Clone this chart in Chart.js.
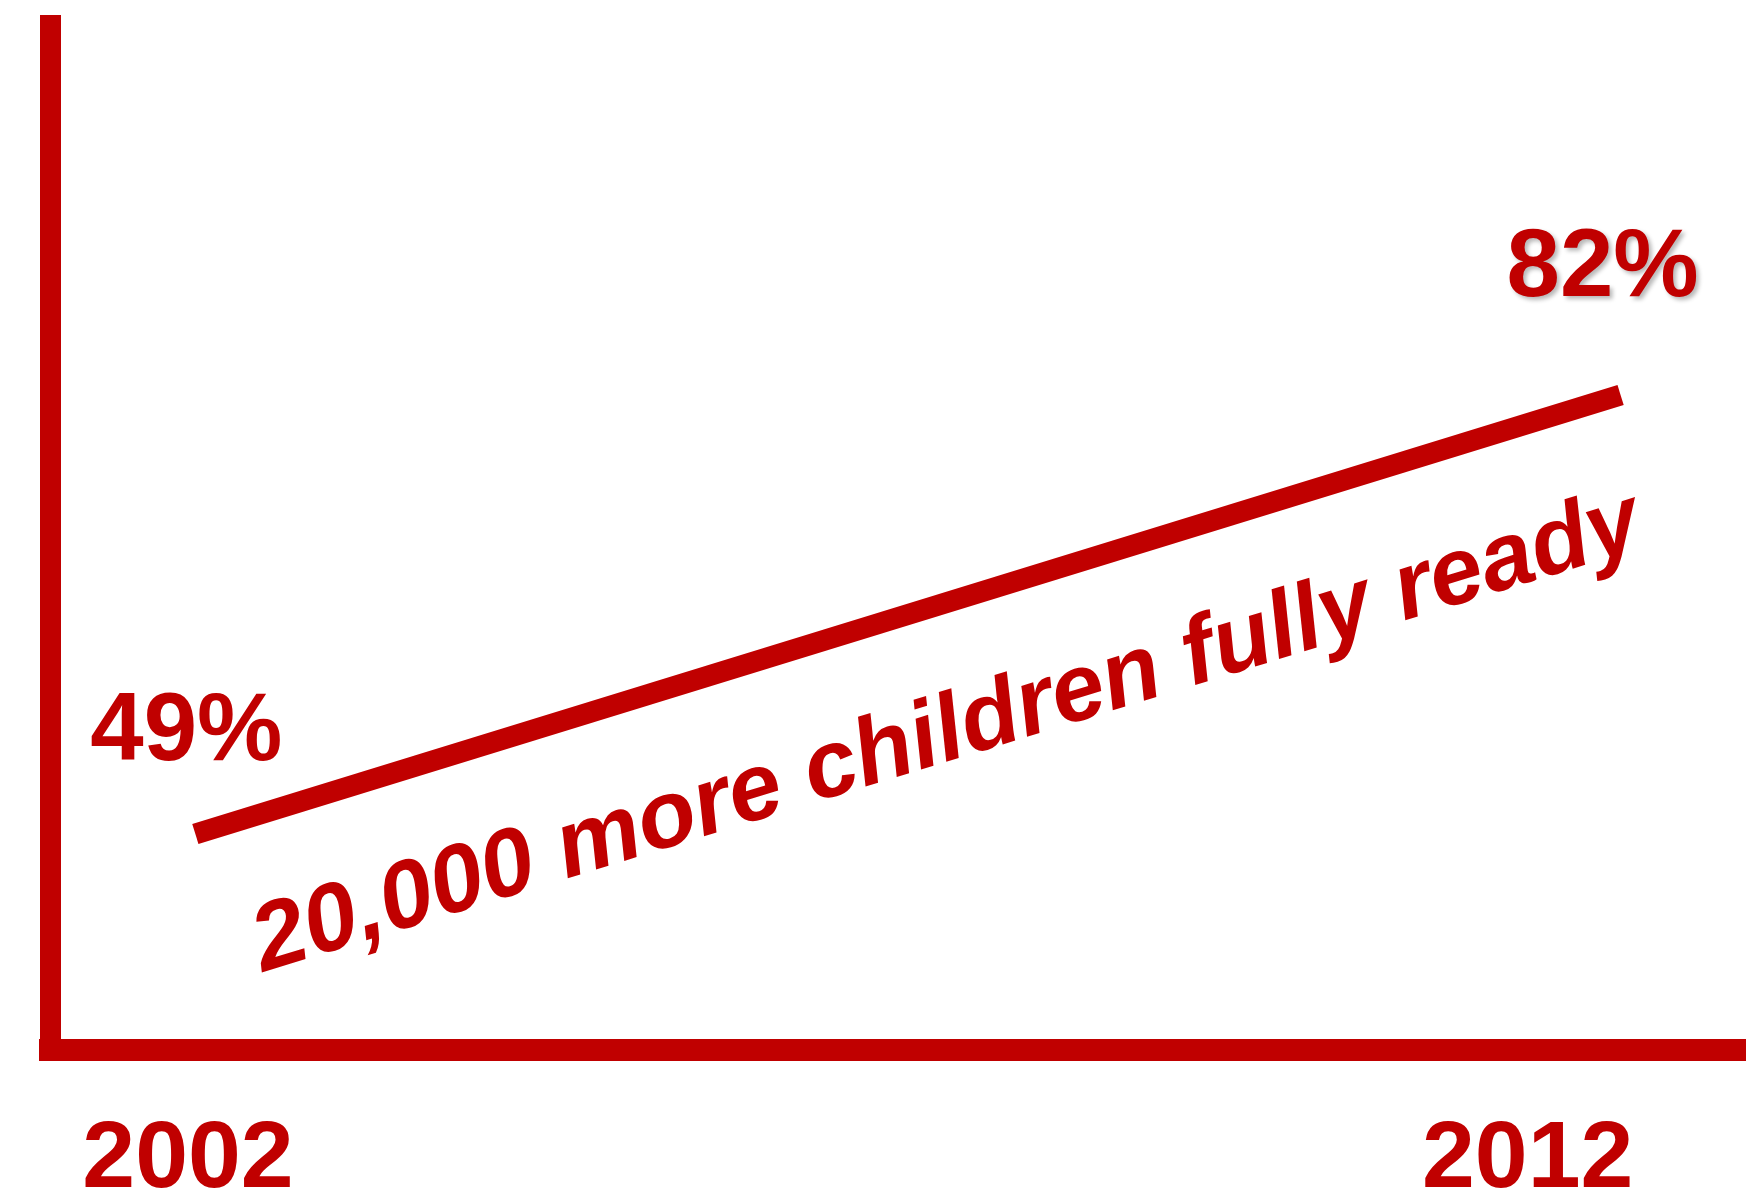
<!DOCTYPE html>
<html lang="en">
<head>
    <meta charset="UTF-8">
    <title>Children fully ready</title>
    <style>
        html, body { margin: 0; padding: 0; background: #fff; overflow: hidden; }
        #chartContainer { width: 1746px; height: 1198px; }
    </style>
</head>
<body>
    <div id="chartContainer"><canvas id="chart" width="1746" height="1198"></canvas></div>

    <script src="https://cdn.jsdelivr.net/npm/chart.js"></script>
    <script>
        const years = [2002, 2012]
        const readyPct = [49, 82]
        const tickYears = [2002, 2012]
        const pointLabels = ['49%', '82%']
        const noteText = '20,000 more children fully ready'

        const red = '#C00000'
        const fontFamily = '"Liberation Sans", Arial, sans-serif'

        // labels and the slanted note are drawn off the line's own points
        const labelsPlugin = {
            id: 'labels',
            afterDatasetsDraw(chart) {
                const ctx = chart.ctx
                const pts = chart.getDatasetMeta(0).data
                const p0 = pts[0], p1 = pts[1]

                ctx.save()
                ctx.fillStyle = red
                ctx.font = 'bold 96px ' + fontFamily
                ctx.textAlign = 'center'
                ctx.textBaseline = 'alphabetic'
                ctx.fillText(pointLabels[0], p0.x - 9, p0.y - 74)

                ctx.shadowColor = 'rgba(0,0,0,0.28)'
                ctx.shadowOffsetX = 3
                ctx.shadowOffsetY = 3
                ctx.shadowBlur = 4
                ctx.fillText(pointLabels[1], p1.x - 18, p1.y - 99)
                ctx.restore()

                const angle = Math.atan2(p1.y - p0.y, p1.x - p0.x)
                ctx.save()
                ctx.fillStyle = red
                ctx.font = 'italic bold 95px ' + fontFamily
                ctx.textAlign = 'left'
                ctx.textBaseline = 'alphabetic'
                ctx.translate(p0.x + 68, p0.y + 138)
                ctx.rotate(angle)
                ctx.fillText(noteText, 0, 0)
                ctx.restore()
            }
        }

        new Chart(document.getElementById('chart'), {
            type: 'line',
            data: {
                datasets: [{
                    data: years.map((y, i) => ({ x: y, y: readyPct[i] })),
                    borderColor: red,
                    borderWidth: 21,
                    borderCapStyle: 'butt',
                    pointRadius: 0,
                    fill: false,
                    tension: 0
                }]
            },
            options: {
                responsive: false,
                animation: false,
                devicePixelRatio: 1,
                layout: { padding: { left: 50, top: 25.5, right: 0, bottom: 0 } },
                plugins: {
                    legend: { display: false },
                    tooltip: { enabled: false }
                },
                scales: {
                    x: {
                        type: 'linear',
                        display: false,
                        min: 2000.98,
                        max: 2012.88
                    },
                    xLab: {
                        type: 'linear',
                        position: 'bottom',
                        min: 2000.97,
                        max: 2013.63,
                        afterBuildTicks: axis => { axis.ticks = tickYears.map(v => ({ value: v })) },
                        afterFit: axis => { axis.height = 148.5 },
                        grid: { display: false, drawTicks: false },
                        border: { display: true, color: red, width: 22 },
                        ticks: {
                            color: red,
                            autoSkip: false,
                            maxRotation: 0,
                            padding: 65,
                            font: { family: fontFamily, size: 95, weight: 'bold', lineHeight: 0.97 },
                            callback: v => String(v)
                        }
                    },
                    y: {
                        min: 32.8,
                        max: 109.78,
                        grid: { display: false, drawTicks: false },
                        border: { display: true, color: red, width: 21 },
                        ticks: { display: false }
                    }
                }
            },
            plugins: [labelsPlugin]
        })
    </script>
</body>
</html>
